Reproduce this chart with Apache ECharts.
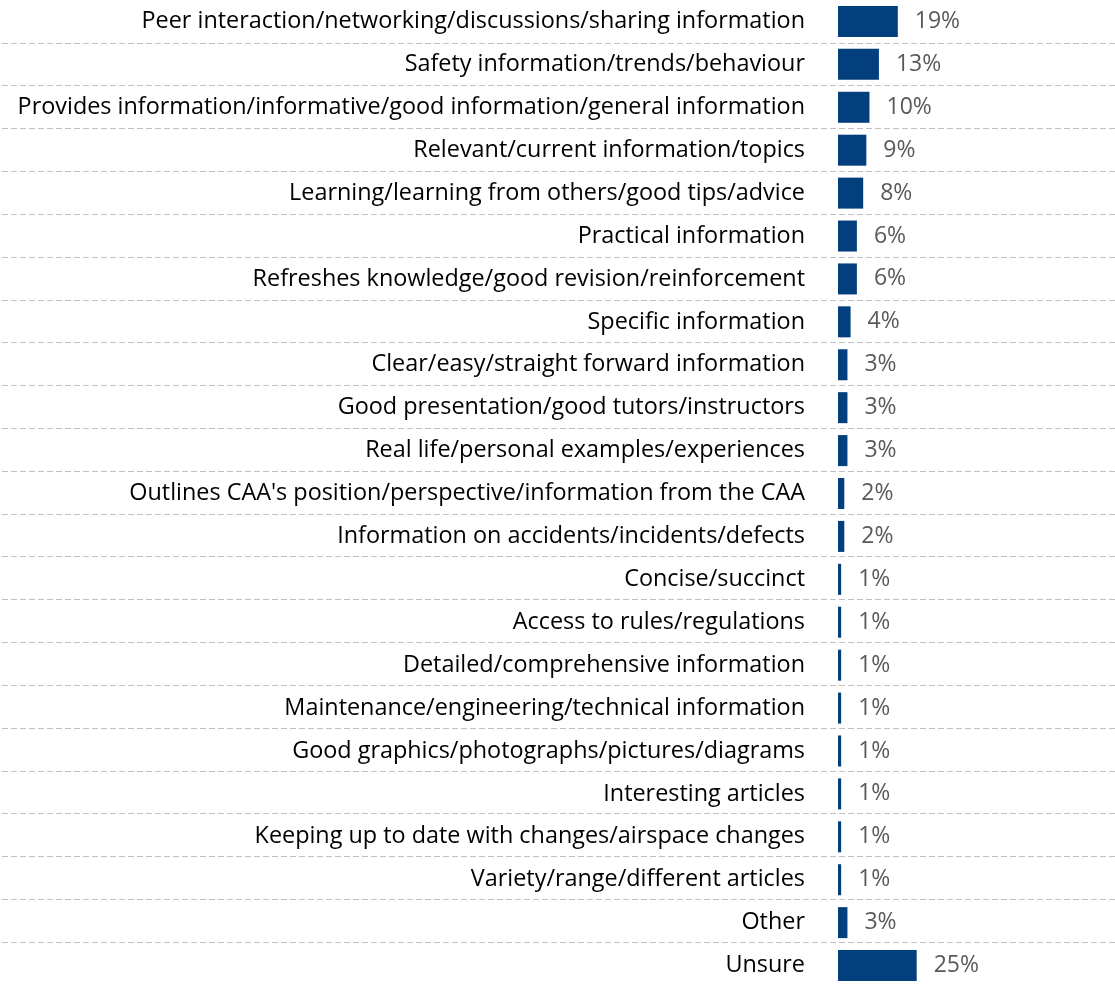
<!DOCTYPE html>
<html lang="en">
<head>
    <meta charset="UTF-8">
    <title>Chart</title>
    <style>
        *{ margin: 0; padding: 0; }
        body{ background: #fff; }
        #main{ width: 1115px; height: 988px; }
    </style>
</head>
<body>
<div id="main"></div>
<script src="https://cdn.jsdelivr.net/npm/echarts@6/dist/echarts.min.js"></script>
<script>
    // categories top to bottom
    let categories = [
        'Peer interaction/networking/discussions/sharing information',
        'Safety information/trends/behaviour',
        'Provides information/informative/good information/general information',
        'Relevant/current information/topics',
        'Learning/learning from others/good tips/advice',
        'Practical information',
        'Refreshes knowledge/good revision/reinforcement',
        'Specific information',
        'Clear/easy/straight forward information',
        'Good presentation/good tutors/instructors',
        'Real life/personal examples/experiences',
        "Outlines CAA's position/perspective/information from the CAA",
        'Information on accidents/incidents/defects',
        'Concise/succinct',
        'Access to rules/regulations',
        'Detailed/comprehensive information',
        'Maintenance/engineering/technical information',
        'Good graphics/photographs/pictures/diagrams',
        'Interesting articles',
        'Keeping up to date with changes/airspace changes',
        'Variety/range/different articles',
        'Other',
        'Unsure'
    ];
    let values = [19, 13, 10, 9, 8, 6, 6, 4, 3, 3, 3, 2, 2, 1, 1, 1, 1, 1, 1, 1, 1, 3, 25];

    let myChart = echarts.init(document.getElementById('main'));
    myChart.setOption({
        animation: false,
        grid: [
            {left: 838, right: 0, top: 0, bottom: 1},
            // full-width grid only for the dashed row separators
            {left: 2, right: 0, top: -2, bottom: 3}
        ],
        xAxis: [
            {gridIndex: 0, type: 'value', min: 0, max: 88, show: false},
            {gridIndex: 1, type: 'value', min: 0, max: 1, show: false}
        ],
        yAxis: [
            {
                gridIndex: 0,
                type: 'category',
                inverse: true,
                data: categories,
                axisLine: {show: false},
                axisTick: {show: false},
                splitLine: {show: false},
                axisLabel: {
                    margin: 33,
                    color: '#000',
                    fontFamily: 'Open Sans',
                    fontSize: 23.4
                }
            },
            {
                gridIndex: 1,
                type: 'category',
                inverse: true,
                data: categories,
                axisLine: {show: false},
                axisTick: {show: false},
                axisLabel: {show: false},
                splitLine: {
                    show: true,
                    showMinLine: false,
                    showMaxLine: false,
                    lineStyle: {color: '#c0c0c0', type: [6, 3], width: 1}
                }
            }
        ],
        series: [{
            type: 'bar',
            xAxisIndex: 0,
            yAxisIndex: 0,
            data: values,
            barWidth: 31,
            itemStyle: {color: '#033F7C'},
            label: {
                show: true,
                position: 'right',
                distance: 17,
                formatter: '{c}%',
                color: '#595959',
                fontFamily: 'Open Sans',
                fontSize: 23
            }
        }]
    });
</script>
</body>
</html>
